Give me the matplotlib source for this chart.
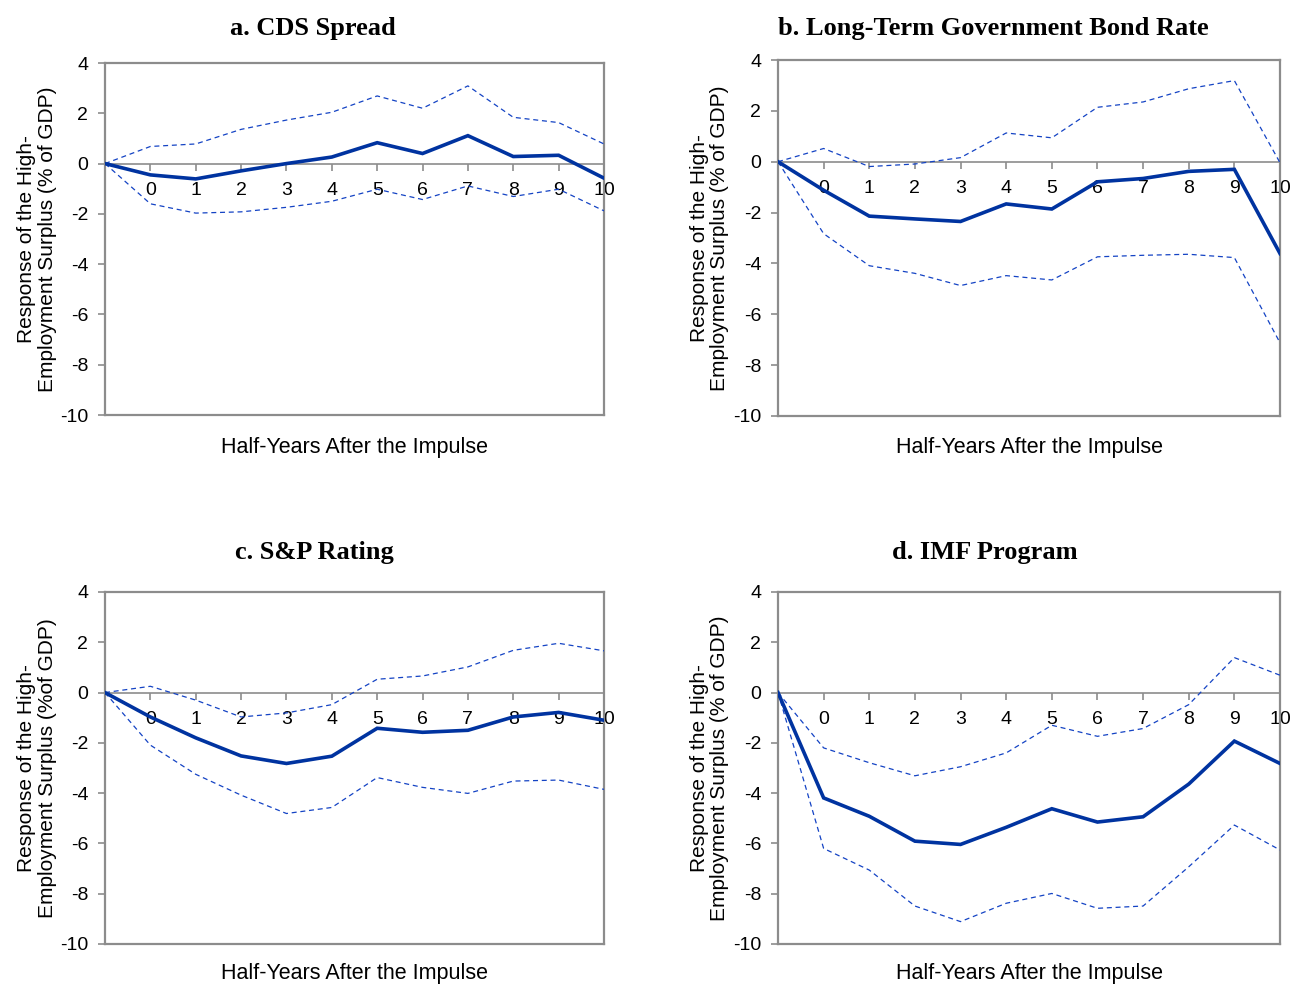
import numpy as np
import matplotlib.pyplot as plt

plt.rcParams['axes.unicode_minus'] = False
plt.rcParams['font.family'] = ['Liberation Sans', 'DejaVu Sans']

# Section: Data (half-years after impulse; -1 is the unlabeled starting point)
# ---
periods = [-1, 0, 1, 2, 3, 4, 5, 6, 7, 8, 9, 10]
period_labels = ['', '0', '1', '2', '3', '4', '5', '6', '7', '8', '9', '10']

cds_mid = [0, -0.45, -0.61, -0.29, 0.0, 0.26, 0.83, 0.40, 1.11, 0.28, 0.33, -0.58]
cds_hi = [0, 0.68, 0.78, 1.36, 1.73, 2.04, 2.69, 2.20, 3.09, 1.84, 1.63, 0.78]
cds_lo = [0, -1.60, -1.97, -1.92, -1.74, -1.50, -1.02, -1.43, -0.89, -1.31, -1.02, -1.88]

bond_mid = [0, -1.12, -2.14, -2.25, -2.35, -1.66, -1.86, -0.79, -0.66, -0.38, -0.30, -3.61]
bond_hi = [0, 0.52, -0.19, -0.09, 0.16, 1.13, 0.94, 2.14, 2.35, 2.87, 3.19, -0.04]
bond_lo = [0, -2.83, -4.09, -4.39, -4.87, -4.48, -4.65, -3.74, -3.68, -3.64, -3.77, -7.12]

sp_mid = [0, -0.97, -1.80, -2.52, -2.82, -2.53, -1.42, -1.58, -1.50, -0.97, -0.79, -1.10]
sp_hi = [0, 0.25, -0.30, -0.97, -0.81, -0.48, 0.53, 0.66, 1.02, 1.68, 1.96, 1.66]
sp_lo = [0, -2.09, -3.25, -4.08, -4.81, -4.57, -3.38, -3.77, -4.01, -3.52, -3.48, -3.85]

imf_mid = [0, -4.19, -4.92, -5.91, -6.04, -5.36, -4.62, -5.15, -4.94, -3.64, -1.93, -2.82]
imf_hi = [0, -2.20, -2.79, -3.31, -2.95, -2.40, -1.30, -1.74, -1.43, -0.48, 1.39, 0.69]
imf_lo = [0, -6.20, -7.06, -8.49, -9.11, -8.38, -7.99, -8.58, -8.49, -6.93, -5.27, -6.26]

titles = ['a. CDS Spread', 'b. Long-Term Government Bond Rate',
          'c. S&P Rating', 'd. IMF Program']
ylabels = ['Response of the High-\nEmployment Surplus (% of GDP)',
           'Response of the High-\nEmployment Surplus (% of GDP)',
           'Response of the High-\nEmployment Surplus (%of GDP)',
           'Response of the High-\nEmployment Surplus (% of GDP)']
xlabel = 'Half-Years After the Impulse'
yticks = [4, 2, 0, -2, -4, -6, -8, -10]

series = [(cds_mid, cds_hi, cds_lo), (bond_mid, bond_hi, bond_lo),
          (sp_mid, sp_hi, sp_lo), (imf_mid, imf_hi, imf_lo)]

# Section: Layout
# ---
W, H = 1293, 986
boxes = [(105, 63, 604, 415), (778, 60, 1280, 416),
         (105, 592, 604, 944), (778, 592, 1280, 944)]
title_pos = [(313, 28), (993, 28), (314, 553), (985, 553)]
xlab_y = [448, 448, 974, 974]

SOLID = '#0033a0'
DASH = '#1443c4'
GRAY = '#8c8c8c'

fig = plt.figure(figsize=(W / 100, H / 100), dpi=100)

for k in range(4):
    x0, y0, x1, y1 = boxes[k]
    ax = fig.add_axes([x0 / W, 1 - y1 / H, (x1 - x0) / W, (y1 - y0) / H])
    mid, hi, lo = series[k]
    ax.plot(periods, hi, color=DASH, lw=0.9, ls=(0, (4, 3)), zorder=3)
    ax.plot(periods, lo, color=DASH, lw=0.9, ls=(0, (4, 3)), zorder=3)
    ax.plot(periods, mid, color=SOLID, lw=2.6, zorder=4, solid_joinstyle='miter')

    ax.set_xlim(-1, 10)
    ax.set_ylim(-10, 4)
    ax.set_yticks(yticks)
    ax.set_yticklabels([str(v) for v in yticks], fontsize=14)

    # category axis crosses at zero
    ax.spines['bottom'].set_position(('data', 0))
    ax.set_xticks(periods)
    ax.set_xticklabels(period_labels, fontsize=14)
    for s in ax.spines.values():
        s.set_color(GRAY)
        s.set_linewidth(1.6)
    ax.spines['bottom'].set_linewidth(1.2)
    ax.plot([0, 1], [0, 0], transform=ax.transAxes, color=GRAY, lw=1.6,
            clip_on=False, zorder=2)
    ax.tick_params(axis='x', direction='out', length=5, width=1.2,
                   color=GRAY, pad=8)
    ax.tick_params(axis='y', direction='out', length=5, width=1.2,
                   color=GRAY, pad=7)
    ax.set_ylabel(ylabels[k], fontsize=15, linespacing=1.1)
    ax.yaxis.set_label_coords(-0.097, 0.5)

    cx = (x0 + x1) / 2
    fig.text(cx / W, 1 - xlab_y[k] / H, xlabel, fontsize=15.5,
             ha='center', va='center')
    tx, ty = title_pos[k]
    fig.text(tx / W, 1 - ty / H, titles[k], fontsize=19, family='Liberation Serif',
             weight='bold', ha='center', va='center')

fig.savefig('out.png', dpi=100)
